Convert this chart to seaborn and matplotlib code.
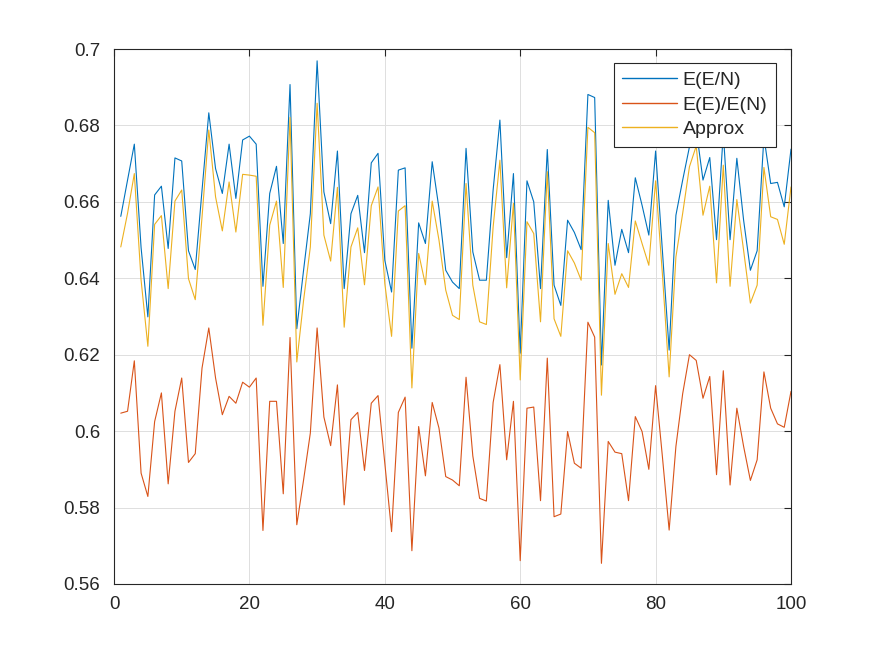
import numpy as np
import pandas as pd
import matplotlib
matplotlib.use("Agg")
import matplotlib.pyplot as plt
import seaborn as sns

x_vals = list(range(1, 101))

e_en = [0.6562, 0.6657, 0.6751, 0.6480, 0.6299, 0.6618, 0.6641, 0.6478, 0.6715, 0.6707,
        0.6472, 0.6423, 0.6630, 0.6833, 0.6687, 0.6622, 0.6751, 0.6609, 0.6762, 0.6772,
        0.6751, 0.6379, 0.6622, 0.6693, 0.6491, 0.6907, 0.6268, 0.6421, 0.6569, 0.6969,
        0.6626, 0.6543, 0.6733, 0.6373, 0.6569, 0.6617, 0.6467, 0.6702, 0.6727, 0.6447,
        0.6364, 0.6683, 0.6689, 0.6217, 0.6545, 0.6491, 0.6705, 0.6583, 0.6421, 0.6390,
        0.6373, 0.6740, 0.6469, 0.6395, 0.6395, 0.6631, 0.6814, 0.6454, 0.6674, 0.6204,
        0.6655, 0.6600, 0.6373, 0.6737, 0.6382, 0.6329, 0.6552, 0.6520, 0.6475, 0.6881,
        0.6873, 0.6173, 0.6604, 0.6434, 0.6528, 0.6467, 0.6663, 0.6591, 0.6513, 0.6733,
        0.6473, 0.6212, 0.6565, 0.6657, 0.6744, 0.6790, 0.6657, 0.6716, 0.6501, 0.6780,
        0.6501, 0.6714, 0.6552, 0.6421, 0.6472, 0.6770, 0.6648, 0.6651, 0.6587, 0.6738]

ee_en = [0.6047, 0.6052, 0.6184, 0.5890, 0.5829, 0.6025, 0.6100, 0.5862, 0.6052, 0.6139,
         0.5918, 0.5941, 0.6165, 0.6270, 0.6139, 0.6043, 0.6091, 0.6073, 0.6128, 0.6115,
         0.6139, 0.5740, 0.6078, 0.6078, 0.5836, 0.6245, 0.5755, 0.5872, 0.5995, 0.6270,
         0.6037, 0.5962, 0.6121, 0.5807, 0.6030, 0.6049, 0.5897, 0.6073, 0.6093, 0.5916,
         0.5737, 0.6049, 0.6089, 0.5687, 0.6012, 0.5883, 0.6075, 0.6008, 0.5881, 0.5872,
         0.5857, 0.6141, 0.5935, 0.5824, 0.5817, 0.6075, 0.6174, 0.5925, 0.6078, 0.5661,
         0.6060, 0.6063, 0.5818, 0.6191, 0.5776, 0.5783, 0.5999, 0.5916, 0.5903, 0.6285,
         0.6246, 0.5654, 0.5973, 0.5945, 0.5941, 0.5818, 0.6038, 0.5999, 0.5900, 0.6119,
         0.5934, 0.5741, 0.5960, 0.6098, 0.6200, 0.6185, 0.6086, 0.6143, 0.5886, 0.6158,
         0.5859, 0.6060, 0.5960, 0.5871, 0.5925, 0.6155, 0.6060, 0.6019, 0.6010, 0.6104]

approx = [0.6482, 0.6570, 0.6674, 0.6395, 0.6222, 0.6541, 0.6564, 0.6373, 0.6602, 0.6631,
          0.6399, 0.6344, 0.6560, 0.6788, 0.6613, 0.6524, 0.6652, 0.6521, 0.6672, 0.6670,
          0.6667, 0.6277, 0.6539, 0.6602, 0.6376, 0.6821, 0.6181, 0.6342, 0.6482, 0.6858,
          0.6513, 0.6445, 0.6638, 0.6272, 0.6482, 0.6532, 0.6383, 0.6590, 0.6639, 0.6386,
          0.6248, 0.6576, 0.6590, 0.6113, 0.6465, 0.6383, 0.6602, 0.6500, 0.6369, 0.6303,
          0.6292, 0.6648, 0.6382, 0.6286, 0.6279, 0.6534, 0.6709, 0.6375, 0.6596, 0.6134,
          0.6548, 0.6517, 0.6286, 0.6679, 0.6294, 0.6248, 0.6472, 0.6440, 0.6395, 0.6795,
          0.6781, 0.6094, 0.6491, 0.6358, 0.6412, 0.6376, 0.6550, 0.6491, 0.6434, 0.6655,
          0.6412, 0.6142, 0.6456, 0.6570, 0.6692, 0.6746, 0.6565, 0.6641, 0.6388, 0.6696,
          0.6379, 0.6606, 0.6473, 0.6335, 0.6382, 0.6690, 0.6561, 0.6554, 0.6489, 0.6639]

series_names = ["E(E/N)", "E(E)/E(N)", "Approx"]
series_colors = ["#0072BD", "#D95319", "#EDB120"]
x_ticks = [0, 20, 40, 60, 80, 100]
y_ticks = [0.56, 0.58, 0.60, 0.62, 0.64, 0.66, 0.68, 0.70]
y_tick_labels = ["0.56", "0.58", "0.6", "0.62", "0.64", "0.66", "0.68", "0.7"]

df = pd.DataFrame({
    "x": x_vals * 3,
    "y": e_en + ee_en + approx,
    "series": [series_names[0]] * 100 + [series_names[1]] * 100 + [series_names[2]] * 100,
})

sns.set_theme(style="white")
plt.rcParams["font.family"] = ["Liberation Sans", "DejaVu Sans"]

fig = plt.figure(figsize=(8.75, 6.56), dpi=100)
ax = fig.add_axes([0.1303, 0.1098, 0.7737, 0.8155])

sns.lineplot(data=df, x="x", y="y", hue="series", hue_order=series_names,
             palette=dict(zip(series_names, series_colors)), linewidth=0.8,
             ax=ax, legend=True)

ax.set_xlim(0, 100)
ax.set_ylim(0.56, 0.70)
ax.set_xticks(x_ticks)
ax.set_yticks(y_ticks)
ax.set_yticklabels(y_tick_labels)
ax.set_xlabel("")
ax.set_ylabel("")
ax.grid(True, color="#DFDFDF", linewidth=0.7)
ax.set_axisbelow(True)
for sp in ax.spines.values():
    sp.set_visible(True)
    sp.set_color("#262626")
    sp.set_linewidth(0.8)
ax.tick_params(axis="y", pad=10)
ax.tick_params(axis="x", pad=9)
ax.tick_params(direction="in", length=5, width=0.8, colors="#262626",
               labelsize=13.5, top=True, right=True, labelcolor="#262626")

leg = ax.legend(loc="upper right", bbox_to_anchor=(0.978, 0.974), borderaxespad=0,
                fontsize=14, frameon=True, fancybox=False, framealpha=1,
                edgecolor="#262626", handlelength=2.8, handletextpad=0.3,
                labelspacing=0.35, borderpad=0.45)
leg.get_frame().set_linewidth(0.8)
for line in leg.get_lines():
    line.set_linewidth(1.0)

fig.savefig("out.png", dpi=100, facecolor="white")
